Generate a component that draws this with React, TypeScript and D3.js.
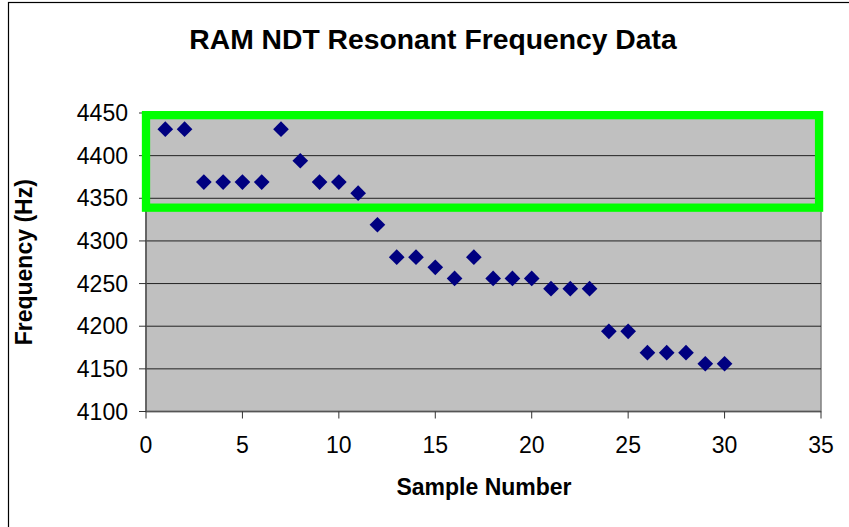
import React from "react";
import * as d3 from "d3";

// sample numbers and measured resonant frequencies (Hz)
const samples = [1, 2, 3, 4, 5, 6, 7, 8, 9, 10, 11, 12, 13, 14, 15, 16, 17, 18, 19, 20, 21, 22, 23, 24, 25, 26, 27, 28, 29, 30];
const frequencies = [
  4431, 4431, 4369, 4369, 4369, 4369, 4431, 4394, 4369, 4369,
  4356, 4319, 4281, 4281, 4269, 4256, 4281, 4256, 4256, 4256,
  4244, 4244, 4244, 4194, 4194, 4169, 4169, 4169, 4156, 4156,
];
const xTicks = [0, 5, 10, 15, 20, 25, 30, 35];
const yTicks = [4100, 4150, 4200, 4250, 4300, 4350, 4400, 4450];
// highlighted band (green box), in data units
const bandX = [0, 34.9];
const bandY = [4339, 4447.5];

const title = "RAM NDT Resonant Frequency Data";
const xTitle = "Sample Number";
const yTitle = "Frequency (Hz)";

const W = 849;
const H = 527;
const plot = { left: 146, right: 821, top: 113, bottom: 411.5 };
const font = "Arial, 'Liberation Sans', sans-serif";
const tickSize = 23;

export default function App() {
  const x = d3.scaleLinear().domain([0, 35]).range([plot.left, plot.right]);
  const y = d3.scaleLinear().domain([4100, 4450]).range([plot.bottom, plot.top]);
  const diamond = d3.symbol(d3.symbolSquare, 123)();

  return (
    <svg
      width={W}
      height={H}
      style={{ position: "absolute", left: 0, top: 0, background: "#fff" }}
    >
      {/* chart frame */}
      <rect x={8.5} y={2.5} width={900} height={600} fill="#fff" stroke="#000" strokeWidth={1.2} />

      {/* plot area */}
      <rect
        x={plot.left}
        y={plot.top}
        width={plot.right - plot.left}
        height={plot.bottom - plot.top}
        fill="#C0C0C0"
        stroke="#808080"
        strokeWidth={1.5}
      />

      {/* gridlines */}
      {yTicks.slice(1).map((t) => (
        <line key={"g" + t} x1={plot.left} x2={plot.right} y1={y(t)} y2={y(t)} stroke="#222" strokeWidth={1} />
      ))}

      {/* axes */}
      <line x1={plot.left} x2={plot.left} y1={plot.top} y2={plot.bottom} stroke="#555" strokeWidth={1.5} />
      <line x1={plot.left} x2={plot.right} y1={plot.bottom} y2={plot.bottom} stroke="#555" strokeWidth={1.5} />

      {yTicks.map((t) => (
        <g key={"y" + t}>
          <line x1={plot.left - 7} x2={plot.left} y1={y(t)} y2={y(t)} stroke="#333" strokeWidth={1} />
          <text x={128} y={y(t) + 8.2} textAnchor="end" fontFamily={font} fontSize={tickSize} fill="#000">
            {t}
          </text>
        </g>
      ))}
      {xTicks.map((t) => (
        <g key={"x" + t}>
          <line x1={x(t)} x2={x(t)} y1={plot.bottom} y2={plot.bottom + 7} stroke="#333" strokeWidth={1} />
          <text x={x(t)} y={452.5} textAnchor="middle" fontFamily={font} fontSize={tickSize} fill="#000">
            {t}
          </text>
        </g>
      ))}

      {/* points */}
      {samples.map((s, i) => (
        <path
          key={"p" + s}
          d={diamond!}
          transform={`translate(${x(s)},${y(frequencies[i])}) rotate(45)`}
          fill="#000080"
        />
      ))}

      {/* green highlight box */}
      <rect
        x={x(bandX[0])}
        y={y(bandY[1])}
        width={x(bandX[1]) - x(bandX[0])}
        height={y(bandY[0]) - y(bandY[1])}
        fill="none"
        stroke="#00FF00"
        strokeWidth={8.3}
      />

      {/* titles */}
      <text x={433} y={49} textAnchor="middle" fontFamily={font} fontWeight="bold" fontSize={28.3} fill="#000">
        {title}
      </text>
      <text x={484} y={495} textAnchor="middle" fontFamily={font} fontWeight="bold" fontSize={23} fill="#000">
        {xTitle}
      </text>
      <text
        transform={`translate(32,${(plot.top + plot.bottom) / 2}) rotate(-90)`}
        textAnchor="middle"
        fontFamily={font}
        fontWeight="bold"
        fontSize={23}
        fill="#000"
      >
        {yTitle}
      </text>
    </svg>
  );
}
